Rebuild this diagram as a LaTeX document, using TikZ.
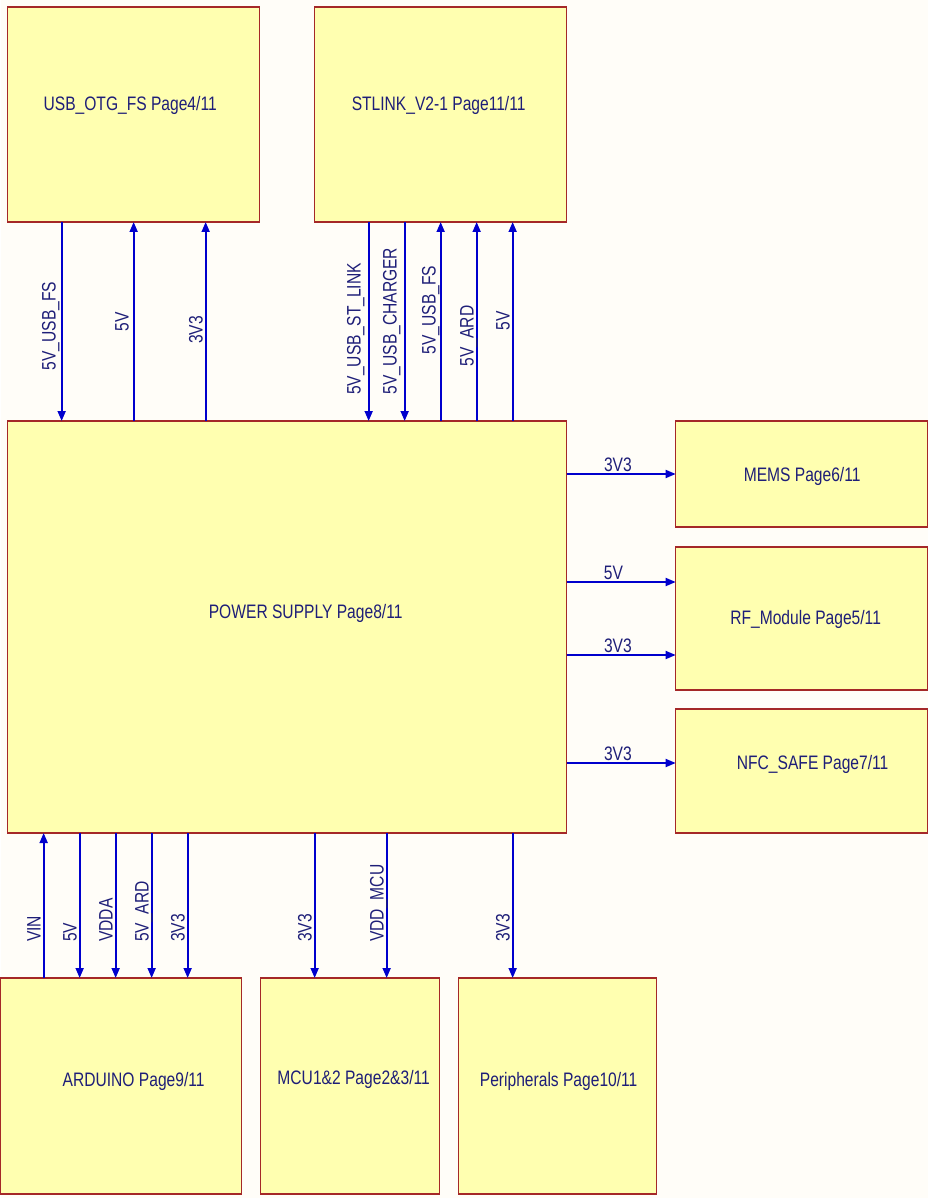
\documentclass[tikz,border=0pt]{standalone}
\usepackage{fontspec}
\setmainfont{Liberation Sans}[FakeStretch=0.8]
\usetikzlibrary{arrows.meta}
\definecolor{paper}{RGB}{255,253,248}
\definecolor{boxfill}{RGB}{255,255,176}
\definecolor{edge}{RGB}{165,40,40}
\definecolor{ink}{RGB}{30,30,120}
\definecolor{wire}{RGB}{0,0,205}

\begin{document}
\begin{tikzpicture}[x=1pt,y=-1pt,
    blk/.style={draw=edge, fill=boxfill, line width=1.3pt, outer sep=0pt, inner sep=0pt},
    txt/.style={text=ink, inner sep=0pt, font=\fontsize{19.5}{22}\selectfont},
    vlab/.style={txt, rotate=90},
    sig/.style={draw=wire, line width=1.8pt, -{Triangle[length=10pt,width=8pt]}}
    ]
    \fill[paper] (0,0) rectangle (927,1198);
    % blocks
    \node[blk, minimum width=252pt, minimum height=215pt] (usb) at (133,114.5) {};
    \node[blk, minimum width=252pt, minimum height=215pt] (stl) at (440,114.5) {};
    \node[blk, minimum width=559pt, minimum height=412pt] (pwr) at (286.5,627) {};
    \node[blk, minimum width=252pt, minimum height=106pt] (mems) at (801,474) {};
    \node[blk, minimum width=252pt, minimum height=143pt] (rf) at (801,618.5) {};
    \node[blk, minimum width=252pt, minimum height=124pt] (nfc) at (801,771) {};
    \node[blk, minimum width=241pt, minimum height=216pt] (ard) at (120.5,1086) {};
    \node[blk, minimum width=179pt, minimum height=216pt] (mcu) at (349.5,1086) {};
    \node[blk, minimum width=198pt, minimum height=216pt] (per) at (557,1086) {};
    % block titles
    \node[txt, anchor=base] (usbt) at (129.5,111) {USB\_OTG\_FS Page4/11};
    \node[txt, anchor=base] (stlt) at (438,111) {STLINK\_V2-1 Page11/11};
    \node[txt, anchor=base] (pwrt) at (305,618) {POWER SUPPLY Page8/11};
    \node[txt, anchor=base] (memst) at (801.5,481) {MEMS Page6/11};
    \node[txt, anchor=base] (rft) at (805,624) {RF\_Module Page5/11};
    \node[txt, anchor=base] (nfct) at (812,769) {NFC\_SAFE Page7/11};
    \node[txt, anchor=base] (ardt) at (133,1086) {ARDUINO Page9/11};
    \node[txt, anchor=base] (mcut) at (353,1084) {MCU1\&2 Page2\&3/11};
    \node[txt, anchor=base] (pert) at (558,1086) {Peripherals Page10/11};
    % usb <-> power
    \draw[sig] (61,0 |- usb.south) -- (61,0 |- pwr.north);
    \node[vlab, anchor=base] at (55,326) {5V\_USB\_FS};
    \foreach \x/\lx/\ly/\t in {133/128/322/5V, 205/202/330/3V3}
      {\draw[sig] (\x,0 |- pwr.north) -- (\x,0 |- usb.south);
       \node[vlab, anchor=base] at (\lx,\ly) {\t};}
    % stlink <-> power
    \foreach \x/\lx/\ly/\t in {368/360/329/5V\_USB\_ST\_LINK, 404/396/321/5V\_USB\_CHARGER}
      {\draw[sig] (\x,0 |- stl.south) -- (\x,0 |- pwr.north);
       \node[vlab, anchor=base] at (\lx,\ly) {\t};}
    \foreach \x/\lx/\ly/\t in {440/435/310/5V\_USB\_FS, 476/473/336/5V\_ARD, 512/509/321/5V}
      {\draw[sig] (\x,0 |- pwr.north) -- (\x,0 |- stl.south);
       \node[vlab, anchor=base] at (\lx,\ly) {\t};}
    % power -> right blocks
    \draw[sig] (pwr.east |- 0,474) -- (mems.west |- 0,474) node[txt, pos=0.47, anchor=base, yshift=3pt] {3V3};
    \draw[sig] (pwr.east |- 0,582) -- (rf.west |- 0,582) node[txt, pos=0.43, anchor=base, yshift=3pt] {5V};
    \draw[sig] (pwr.east |- 0,655) -- (rf.west |- 0,655) node[txt, pos=0.47, anchor=base, yshift=3pt] {3V3};
    \draw[sig] (pwr.east |- 0,763) -- (nfc.west |- 0,763) node[txt, pos=0.47, anchor=base, yshift=3pt] {3V3};
    % power <-> bottom blocks
    \draw[sig] (43,0 |- ard.north) -- (43,0 |- pwr.south);
    \node[vlab, anchor=base west] at (40,942) {VIN};
    \foreach \x/\t in {79/5V, 115/VDDA, 151/5V\_ARD, 187/3V3}
      {\draw[sig] (\x,0 |- pwr.south) -- (\x,0 |- ard.north);
       \node[vlab, anchor=base west] at (\x-3,942) {\t};}
    \foreach \x/\t in {314/3V3, 386/VDD\_MCU}
      {\draw[sig] (\x,0 |- pwr.south) -- (\x,0 |- mcu.north);
       \node[vlab, anchor=base west] at (\x-3,942) {\t};}
    \draw[sig] (512,0 |- pwr.south) -- (512,0 |- per.north);
    \node[vlab, anchor=base west] at (509,942) {3V3};
\end{tikzpicture}
\end{document}
